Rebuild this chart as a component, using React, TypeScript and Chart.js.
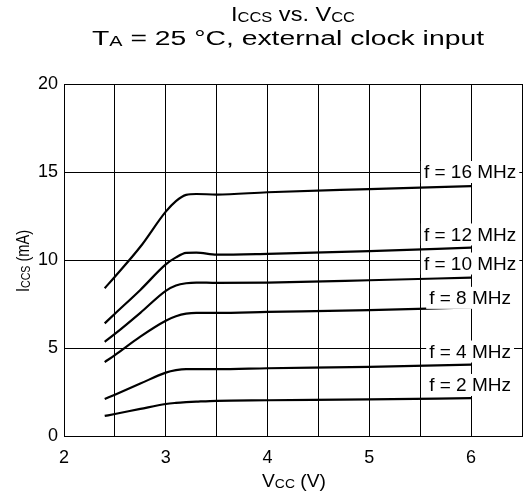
import React, { useEffect, useRef } from "react";
import { Chart, registerables } from "chart.js";

Chart.register(...registerables);

const vcc = [2.4, 2.5, 2.75, 3.0, 3.1, 3.2, 3.3, 3.5, 4, 5, 6];
const f16 = [8.4, 9.05, 10.75, 12.75, 13.35, 13.7, 13.75, 13.72, 13.85, 14.03, 14.2];
const f12 = [6.4, 6.95, 8.3, 9.75, 10.15, 10.4, 10.42, 10.3, 10.35, 10.5, 10.7];
const f10 = [5.35, 5.8, 7.0, 8.25, 8.55, 8.68, 8.72, 8.7, 8.72, 8.85, 9.0];
const f8 = [4.2, 4.6, 5.65, 6.55, 6.8, 6.95, 7.0, 7.0, 7.05, 7.15, 7.3];
const f4 = [2.1, 2.35, 2.98, 3.6, 3.74, 3.8, 3.8, 3.8, 3.85, 3.93, 4.05];
const f2 = [1.14, 1.25, 1.54, 1.82, 1.88, 1.92, 1.95, 2.0, 2.03, 2.08, 2.15];

const seriesNames = ["f = 16 MHz", "f = 12 MHz", "f = 10 MHz", "f = 8 MHz", "f = 4 MHz", "f = 2 MHz"];
const seriesValues = [f16, f12, f10, f8, f4, f2];
const labelX = [5.99, 5.99, 5.99, 5.99, 5.99, 5.99];
const labelY = [15, 11.45, 9.8, 7.85, 4.8, 2.9];

const xTicks = [2, 3, 4, 5, 6];

const FONT = "'Liberation Sans', Arial, sans-serif";

type Run = [string, number];

function drawRuns(ctx: CanvasRenderingContext2D, runs: Run[], x: number, y: number, target?: number) {
  let total = 0;
  for (const [t, s] of runs) {
    ctx.font = `${s}px ${FONT}`;
    total += ctx.measureText(t).width;
  }
  const w = target ?? total;
  const sx = w / total;
  ctx.save();
  ctx.translate(x - w / 2, y);
  ctx.scale(sx, 1);
  let cx = 0;
  ctx.textAlign = "left";
  ctx.textBaseline = "alphabetic";
  for (const [t, s] of runs) {
    ctx.font = `${s}px ${FONT}`;
    ctx.fillText(t, cx, s < 16 ? 1 : 0);
    cx += ctx.measureText(t).width;
  }
  ctx.restore();
}

const textPlugin = {
  id: "textPlugin",
  afterDatasetsDraw(chart: any) {
    const ctx: CanvasRenderingContext2D = chart.ctx;
    const xs = chart.scales.x;
    const ys = chart.scales.y;
    ctx.save();
    for (let i = 0; i < seriesNames.length; i++) {
      const px = xs.getPixelForValue(labelX[i]);
      const py = ys.getPixelForValue(labelY[i]);
      ctx.font = `19px ${FONT}`;
      const w = ctx.measureText(seriesNames[i]).width;
      ctx.fillStyle = "#fff";
      ctx.fillRect(px - w / 2 - 3, py - 11, w + 6, 22);
      ctx.fillStyle = "#000";
      ctx.textAlign = "center";
      ctx.textBaseline = "middle";
      ctx.fillText(seriesNames[i], px, py + 1);
    }
    ctx.fillStyle = "#000";
    drawRuns(ctx, [["I", 20], ["CCS", 14], [" vs. V", 20], ["CC", 14]], 293, 21, 124);
    drawRuns(ctx, [["T", 20], ["A", 14], [" = 25 °C, external clock input", 20]], 288, 45, 392);
    drawRuns(ctx, [["V", 18], ["CC", 13], [" (V)", 18]], 294, 487, 64);
    ctx.save();
    ctx.translate(29, 261);
    ctx.rotate(-Math.PI / 2);
    drawRuns(ctx, [["I", 18], ["CCS", 13], [" (mA)", 18]], 0, 0, 62);
    ctx.restore();
    ctx.restore();
  },
};

export default function App() {
  const ref = useRef<HTMLCanvasElement>(null);
  useEffect(() => {
    document.body.style.margin = "0";
    const canvas = ref.current!;
    const chart = new Chart(canvas, {
      type: "line",
      data: {
        datasets: seriesValues.map((vals, i) => ({
          label: seriesNames[i],
          data: vals.map((v, j) => ({ x: vcc[j], y: v })),
          borderColor: "#000",
          borderWidth: 2.2,
          pointRadius: 0,
          fill: false,
          cubicInterpolationMode: "monotone" as const,
        })),
      },
      options: {
        animation: false,
        responsive: false,
        layout: { padding: { top: 84, right: 1, left: 0, bottom: 0 } },
        plugins: { legend: { display: false }, title: { display: false }, tooltip: { enabled: false } },
        scales: {
          x: {
            type: "linear",
            min: 2,
            max: 6.5,
            afterFit: (s: any) => {
              s.height = 61;
              s.paddingRight = 0;
              s.paddingLeft = 0;
            },
            ticks: {
              stepSize: 0.5,
              autoSkip: false,
              maxRotation: 0,
              color: "#000",
              padding: 11,
              font: { family: FONT, size: 18 },
              callback: (v: any) => (xTicks.includes(Number(v)) ? String(v) : ""),
            },
            grid: { color: "#000", lineWidth: 1, drawTicks: false },
            border: { color: "#000", width: 1 },
          },
          y: {
            min: 0,
            max: 20,
            afterFit: (s: any) => {
              s.width = 64;
              s.paddingTop = 0;
              s.paddingBottom = 0;
            },
            ticks: {
              stepSize: 5,
              color: "#000",
              padding: 6,
              font: { family: FONT, size: 18 },
            },
            grid: { color: "#000", lineWidth: 1, drawTicks: false },
            border: { color: "#000", width: 1 },
          },
        },
      },
      plugins: [textPlugin],
    });
    return () => chart.destroy();
  }, []);
  return <canvas ref={ref} width={523} height={497} style={{ display: "block" }} />;
}
